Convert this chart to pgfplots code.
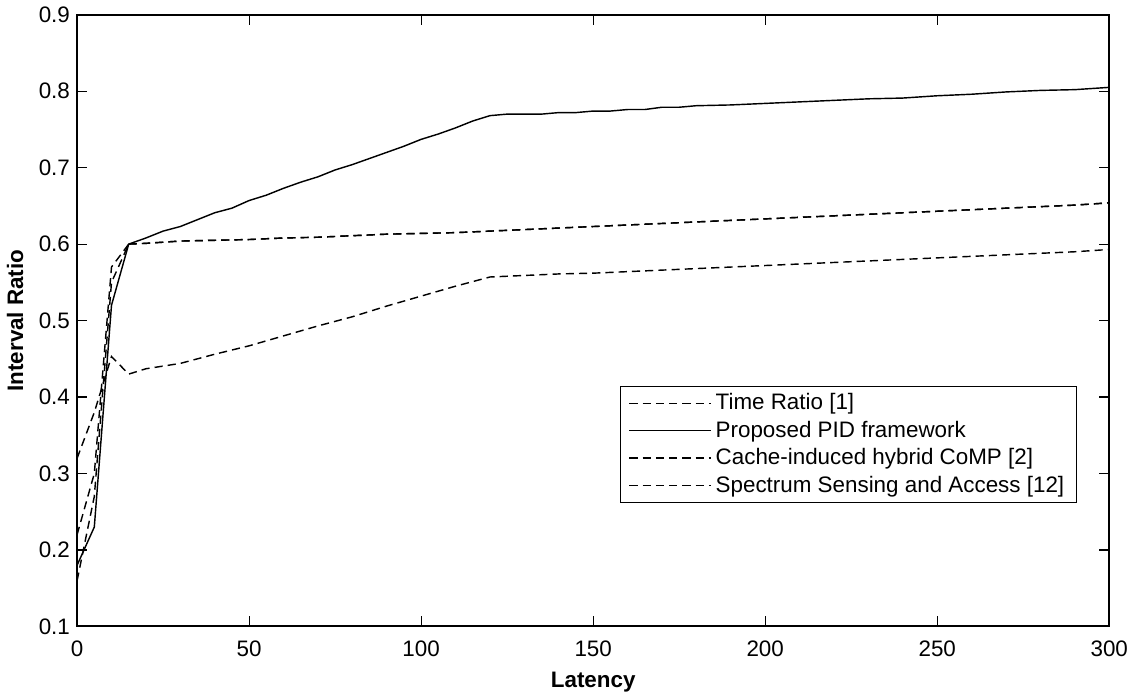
\documentclass[border=0pt]{standalone}
\usepackage{fontspec}
\setmainfont{Liberation Sans}
\usepackage{pgfplots}
\pgfplotsset{compat=1.18}
\begin{document}
\begin{tikzpicture}
\begin{axis}[
  scale only axis,
  width=507pt, height=300.5pt,
  xmin=0, xmax=300, ymin=0.1, ymax=0.9,
  xtick={0,50,...,300},
  ytick={0.1,0.2,...,0.9},
  yticklabel style={/pgf/number format/fixed,/pgf/number format/precision=1},
  xticklabel style={yshift=-3.5pt, inner xsep=1.5pt},
  /pgf/number format/assume math mode=true,
  tick align=inside,
  major tick length=5pt,
  tick style={black, line width=0.6pt},
  axis line style={line width=1pt},
  ticklabel style={font=\fontsize{11}{13}\selectfont},
  xlabel={\textbf{Latency}},
  ylabel={\textbf{Interval Ratio}},
  label style={font=\fontsize{11}{13}\selectfont},
  xlabel style={at={(rel axis cs:0.5,0)}, anchor=center, yshift=-27.5pt},
  ylabel style={at={(rel axis cs:0,0.5)}, anchor=center, yshift=30.5pt},
  legend cell align=left,
  legend style={at={(0.969,0.2016)}, anchor=south east, draw=black, line width=0.8pt,
    font=\fontsize{11}{13}\selectfont, row sep=0pt, inner xsep=4pt, inner ysep=1.5pt},
  legend image code/.code={\draw[#1] (0pt,0pt) -- (40pt,0pt);},
  every axis plot/.append style={black, line width=0.7pt},
]
% Time Ratio [1]
\addplot[dash pattern=on 4pt off 2.5pt] coordinates {
(0,0.22) (5,0.30) (10,0.57) (15,0.600)};
\addlegendentry{Time Ratio [1]}
\addplot[dash pattern=on 4pt off 2.5pt, forget plot] coordinates {
(15,0.600) (20,0.601) (30,0.604) (40,0.605) (50,0.606)
(60,0.608) (70,0.609) (80,0.611) (90,0.613) (100,0.614) (110,0.615) (120,0.617)
(130,0.619) (140,0.621) (150,0.623) (160,0.625) (170,0.627) (180,0.629) (190,0.631)
(200,0.633) (210,0.635) (220,0.637) (230,0.639) (240,0.641) (250,0.643) (260,0.645)
(270,0.647) (280,0.649) (290,0.651) (300,0.654)};
% Proposed PID framework
\addplot[solid] coordinates {
(0,0.18) (5,0.23) (10,0.52) (15,0.600) (20,0.608) (25,0.617) (30,0.623) (35,0.632)
(40,0.641) (45,0.647) (50,0.657) (55,0.664) (60,0.673) (65,0.681) (70,0.688) (75,0.697)
(80,0.704) (85,0.712) (90,0.720) (95,0.728) (100,0.737) (105,0.744) (110,0.752)
(115,0.761) (120,0.768) (125,0.770) (130,0.770) (135,0.770) (140,0.772) (145,0.772)
(150,0.774) (155,0.774) (160,0.776) (165,0.776) (170,0.779) (175,0.779) (180,0.781)
(190,0.782) (200,0.784) (210,0.786) (220,0.788) (230,0.790) (240,0.791) (250,0.794)
(260,0.796) (270,0.799) (280,0.801) (290,0.802) (300,0.805)};
\addlegendentry{Proposed PID framework}
% Cache-induced hybrid CoMP [2]
\addplot[dash pattern=on 4pt off 2.5pt] coordinates {
(0,0.16) (5,0.27) (10,0.55) (15,0.600)};
\addlegendentry{Cache-induced hybrid CoMP [2]}
\addplot[dash pattern=on 4pt off 2.5pt, forget plot] coordinates {
(15,0.600) (20,0.601) (30,0.604) (40,0.605) (50,0.606)
(60,0.608) (70,0.609) (80,0.611) (90,0.613) (100,0.614) (110,0.615) (120,0.617)
(130,0.619) (140,0.621) (150,0.623) (160,0.625) (170,0.627) (180,0.629) (190,0.631)
(200,0.633) (210,0.635) (220,0.637) (230,0.639) (240,0.641) (250,0.643) (260,0.645)
(270,0.647) (280,0.649) (290,0.651) (300,0.654)};
% Spectrum Sensing and Access [12]
\addplot[dash pattern=on 4pt off 2.5pt] coordinates {
(0,0.32) (5,0.38) (10,0.453) (15,0.430) (20,0.437) (30,0.444) (40,0.456) (50,0.467)
(60,0.480) (70,0.493) (80,0.505) (90,0.519) (100,0.532) (110,0.545) (120,0.557)
(130,0.559) (140,0.561) (150,0.562) (160,0.564) (170,0.566) (180,0.568) (190,0.570)
(200,0.572) (210,0.574) (220,0.576) (230,0.578) (240,0.580) (250,0.582) (260,0.584)
(270,0.586) (280,0.588) (290,0.590) (300,0.593)};
\addlegendentry{Spectrum Sensing and Access [12]}
\end{axis}
\end{tikzpicture}
\end{document}
